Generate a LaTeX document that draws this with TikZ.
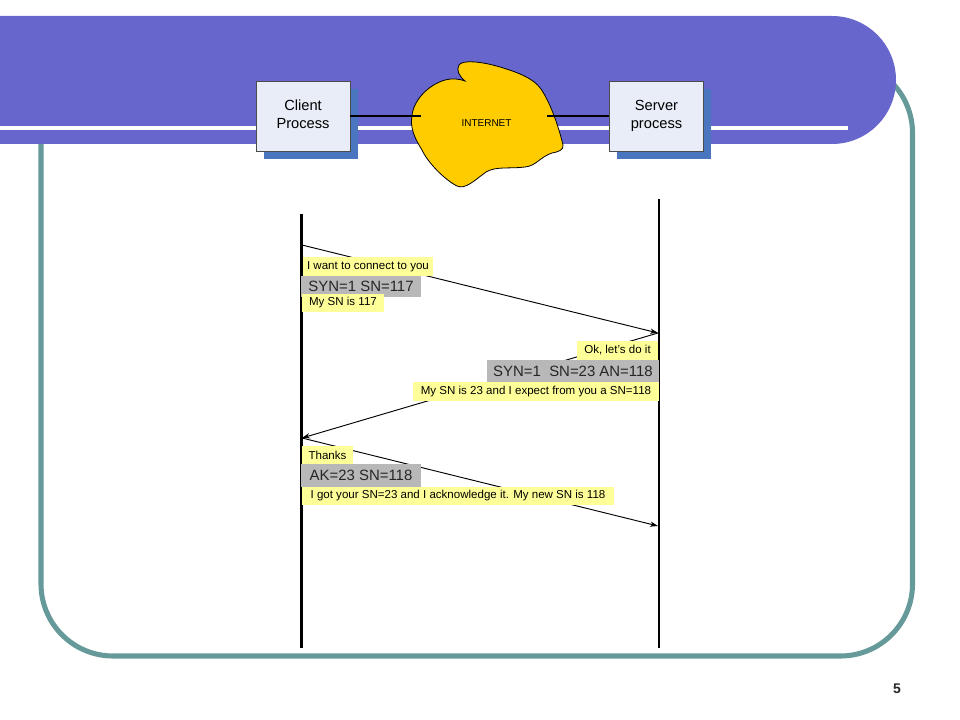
\documentclass[tikz,border=0pt]{standalone}
\usepackage{fontspec}
\setmainfont{Liberation Sans}
\usetikzlibrary{arrows.meta, shadows}
\definecolor{bannerblue}{HTML}{6666CC}
\definecolor{frameteal}{HTML}{669999}
\definecolor{shadowblue}{HTML}{4A76C0}
\definecolor{boxfill}{HTML}{E8EDF7}
\definecolor{cloudfill}{HTML}{FFCC00}
\definecolor{notefill}{HTML}{FFFF99}
\definecolor{pktfill}{HTML}{B8B8B8}
\def\px{0.75pt}
\tikzset{
    procbox/.style={draw=black!70, line width=0.5pt, fill=boxfill, align=center, font=\fontsize{11}{13.5}\selectfont,
        minimum width=94*\px, minimum height=70*\px, inner sep=0pt,
        general shadow={fill=shadowblue, shadow xshift=7.5*\px, shadow yshift=-8*\px}},
    notebox/.style={fill=notefill, inner sep=0pt, font=\fontsize{8.65}{10}\selectfont},
    pktbox/.style={fill=pktfill, inner sep=0pt, text=black!85, font=\fontsize{11.2}{13}\selectfont},
    lifeline/.style={line width=2.2pt},
    msg/.style={line width=0.7pt, -{Stealth[length=6pt,width=4pt]}},
}
\begin{document}
\begin{tikzpicture}[x=0.75pt, y=-0.75pt]
    \useasboundingbox (0,0) rectangle (960,720);

    % Slide frame and banner
    \draw[frameteal, line width=3.8pt, rounded corners=54pt] (41,61) rectangle (912.5,656);
    \fill[bannerblue] (0,16) -- (832,16) arc[start angle=90, end angle=-90, radius=64*\px] -- (0,144) -- cycle;
    \fill[white] (0,126) rectangle (848,130);

    % Hosts
    \node[procbox] (client) at (303,116) {\strut Client\\\strut Process};
    \node[procbox] (server) at (656.5,116) {\strut Server\\\strut process};

    % Cloud
    \draw[fill=cloudfill, line width=0.6pt]
        (465,81) .. controls (459,76) and (456,70) .. (459,65)
        .. controls (462,60) and (480,61) .. (500,67)
        .. controls (520,73) and (534,79) .. (541,89)
        .. controls (551,104) and (559,128) .. (563,145)
        .. controls (564,150) and (558,152) .. (552,153)
        .. controls (540,157) and (536,166) .. (525,167)
        .. controls (510,169) and (496,166) .. (486,172)
        .. controls (475,180) and (465,190) .. (457,186)
        .. controls (445,180) and (428,163) .. (422,150)
        .. controls (414,137) and (410,128) .. (412,115)
        .. controls (414,100) and (428,85) .. (445,80)
        .. controls (452,78) and (460,79) .. (465,81) -- cycle;
    \node[font=\fontsize{7.5}{9}\selectfont] (internet) at (486.5,123) {INTERNET};
    \coordinate (cloudL) at (421,116);
    \coordinate (cloudR) at (547,116);
    \draw[line width=0.9pt] (client.east) -- (cloudL);
    \draw[line width=0.9pt] (cloudR) -- (server.west);

    % Lifelines
    \coordinate (clientTop) at (301.5,214);
    \coordinate (clientBot) at (301.5,648);
    \coordinate (serverTop) at (659,199);
    \coordinate (serverBot) at (659,648);
    \draw[lifeline] (clientTop) -- (clientBot);
    \draw[lifeline] (serverTop) -- (serverBot);

    % Messages
    \coordinate (synA) at (302,245);
    \coordinate (synB) at (658,333);
    \coordinate (ackA) at (302,438);
    \coordinate (ackB) at (658,526);
    \draw[msg] (synA) -- (synB);
    \draw[msg] (synB) -- (ackA);
    \draw[msg] (ackA) -- (ackB);

    % First segment
    \node[notebox, minimum width=130*\px, minimum height=19*\px] (want) at (368,266.5) {I want to connect to you};
    \node[pktbox, minimum width=120*\px, minimum height=21*\px] (syn) at (361,286.5) {SYN=1 SN=117};
    \node[notebox, minimum width=82*\px, minimum height=18*\px] (mysn) at (343,303) {My SN is 117};

    % Second segment
    \node[notebox, minimum width=81*\px, minimum height=19*\px] (okdo) at (617.5,350.5) {Ok, let's do it};
    \node[pktbox, minimum width=172*\px, minimum height=22*\px] (synack) at (573,371) {SYN=1\ \ SN=23 AN=118};
    \node[notebox, minimum width=246*\px, minimum height=19*\px] (expect) at (536,391.5) {My SN is 23 and I expect from you a SN=118};

    % Third segment
    \node[notebox, minimum width=51*\px, minimum height=18*\px] (thanks) at (327.5,455) {Thanks};
    \node[pktbox, minimum width=120*\px, minimum height=23*\px] (ack) at (361,475.5) {AK=23 SN=118};
    \node[notebox, minimum width=312*\px, minimum height=18*\px] (gotsn) at (458,496) {I got your SN=23 and I acknowledge it. My new SN is 118};

    % Page number
    \node[font=\fontsize{10.5}{12}\bfseries\selectfont, text=black!85] (pagenum) at (897,688.5) {5};
\end{tikzpicture}
\end{document}
